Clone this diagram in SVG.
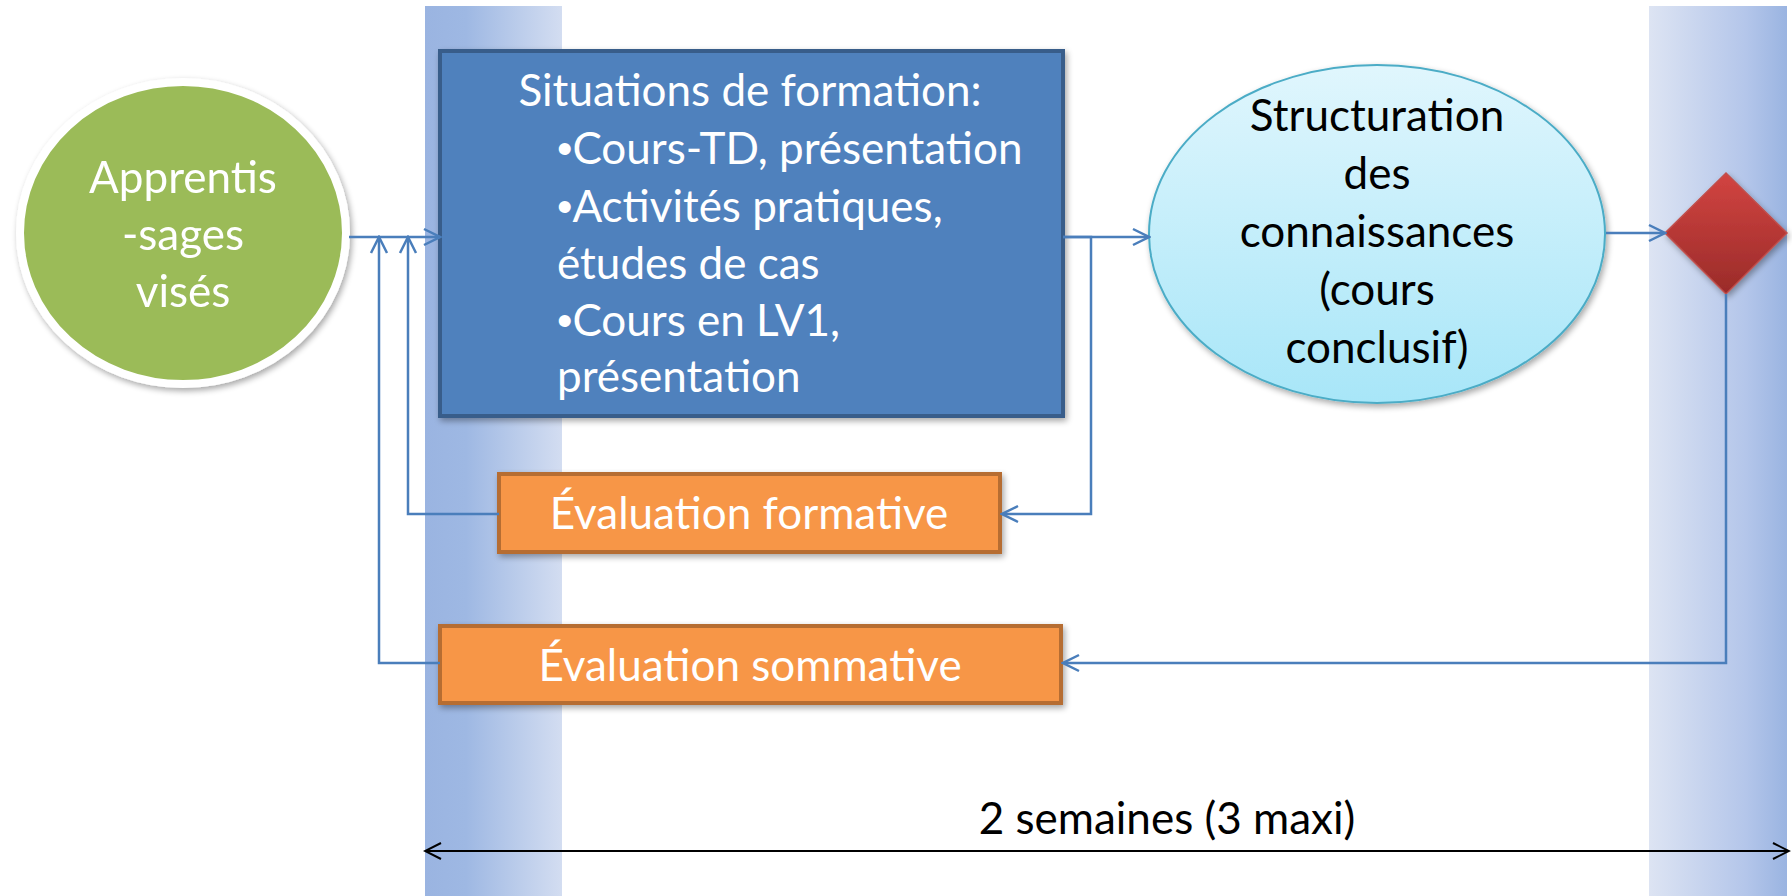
<svg xmlns="http://www.w3.org/2000/svg" width="1792" height="896" viewBox="0 0 1792 896">
  <defs>
    <linearGradient id="bandL" x1="0" y1="0" x2="1" y2="0">
      <stop offset="0" stop-color="#9ab4e1"/>
      <stop offset="0.3" stop-color="#9eb8e3"/>
      <stop offset="1" stop-color="#d3ddf1"/>
    </linearGradient>
    <linearGradient id="bandR" x1="0" y1="0" x2="1" y2="0">
      <stop offset="0" stop-color="#dde4f3"/>
      <stop offset="0.7" stop-color="#b4c6ea"/>
      <stop offset="1" stop-color="#9ab4e1"/>
    </linearGradient>
    <linearGradient id="cyanG" x1="0" y1="0" x2="0" y2="1">
      <stop offset="0" stop-color="#e0f6fd"/>
      <stop offset="1" stop-color="#a8e6f8"/>
    </linearGradient>
    <linearGradient id="redG" x1="0" y1="0" x2="0" y2="1">
      <stop offset="0" stop-color="#d24441"/>
      <stop offset="1" stop-color="#9a2b29"/>
    </linearGradient>
    <filter id="shadow" x="-10%" y="-10%" width="125%" height="125%">
      <feGaussianBlur in="SourceAlpha" stdDeviation="3"/>
      <feOffset dx="2" dy="3" result="b"/>
      <feComponentTransfer><feFuncA type="linear" slope="0.35"/></feComponentTransfer>
      <feMerge><feMergeNode/><feMergeNode in="SourceGraphic"/></feMerge>
    </filter>
    <marker id="arr" viewBox="0 0 20 20" refX="18" refY="10" markerWidth="20" markerHeight="20" markerUnits="userSpaceOnUse" orient="auto">
      <path d="M2,2 L18,10 L2,18" fill="none" stroke="#4a7ebb" stroke-width="2.5"/>
    </marker>
    <marker id="arrK" viewBox="0 0 20 20" refX="18" refY="10" markerWidth="20" markerHeight="20" markerUnits="userSpaceOnUse" orient="auto-start-reverse">
      <path d="M2,2 L18,10 L2,18" fill="none" stroke="#000" stroke-width="2"/>
    </marker>
    <style>
      .t { font-family: Lato, "Open Sans", "Liberation Sans", sans-serif; font-size: 44px; }
      .b { font-family: "Liberation Sans", sans-serif; }
      .w { fill: #ffffff; }
      .k { fill: #000000; }
      .c { fill: none; stroke: #4a7ebb; stroke-width: 2.5; }
      .orange { fill: #f79646; stroke: #b66d31; stroke-width: 4; }
    </style>
  </defs>

  <g id="bands">
    <rect x="425" y="6" width="137" height="890" fill="url(#bandL)"/>
    <rect x="1649" y="6" width="138" height="890" fill="url(#bandR)"/>
  </g>

  <g id="node-apprentissages" filter="url(#shadow)">
    <ellipse cx="183" cy="233" rx="163" ry="151" fill="#9bbb59" stroke="#ffffff" stroke-width="8"/>
    <text class="t w" x="183" y="193" text-anchor="middle">Apprentis</text>
    <text class="t w" x="183" y="250" text-anchor="middle">-sages</text>
    <text class="t w" x="183" y="307" text-anchor="middle">visés</text>
  </g>

  <g id="node-situations">
    <rect x="440" y="51" width="623" height="365" fill="#4f81bd" stroke="#385d8a" stroke-width="4" filter="url(#shadow)"/>
    <text class="t w" x="750" y="106" text-anchor="middle">Situations de formation:</text>
    <text class="t w" x="557" y="164"><tspan class="b">•</tspan>Cours-TD, présentation</text>
    <text class="t w" x="557" y="222"><tspan class="b">•</tspan>Activités pratiques,</text>
    <text class="t w" x="557" y="279">études de cas</text>
    <text class="t w" x="557" y="336"><tspan class="b">•</tspan>Cours en LV1,</text>
    <text class="t w" x="557" y="392">présentation</text>
  </g>

  <g id="node-structuration">
    <ellipse cx="1377" cy="234" rx="228" ry="169" fill="url(#cyanG)" stroke="#4bacc6" stroke-width="2" filter="url(#shadow)"/>
    <text class="t k" x="1377" y="131" text-anchor="middle">Structuration</text>
    <text class="t k" x="1377" y="189" text-anchor="middle">des</text>
    <text class="t k" x="1377" y="247" text-anchor="middle">connaissances</text>
    <text class="t k" x="1377" y="305" text-anchor="middle">(cours</text>
    <text class="t k" x="1377" y="363" text-anchor="middle">conclusif)</text>
  </g>

  <g id="node-decision">
    <polygon points="1726,173 1787,233 1726,294 1665,233" fill="url(#redG)" stroke="#c0504d" stroke-width="1.5" filter="url(#shadow)"/>
  </g>

  <g id="node-formative">
    <rect class="orange" x="499" y="474" width="501" height="78" filter="url(#shadow)"/>
    <text class="t w" x="749" y="529" text-anchor="middle">Évaluation formative</text>
  </g>

  <g id="node-sommative">
    <rect class="orange" x="440" y="626" width="621" height="77" filter="url(#shadow)"/>
    <text class="t w" x="750" y="681" text-anchor="middle">Évaluation sommative</text>
  </g>

  <g id="connectors">
    <path class="c" d="M349,237 H440" marker-end="url(#arr)"/>
    <path class="c" d="M1063,237 H1149" marker-end="url(#arr)"/>
    <path class="c" d="M1063,237 H1091 V514 H1002" marker-end="url(#arr)"/>
    <path class="c" d="M499,514 H408 V237" marker-end="url(#arr)"/>
    <path class="c" d="M1606,233 H1665" marker-end="url(#arr)"/>
    <path class="c" d="M1726,294 V663 H1063" marker-end="url(#arr)"/>
    <path class="c" d="M440,663 H379 V237" marker-end="url(#arr)"/>
    <path d="M425,851 H1789" fill="none" stroke="#000" stroke-width="2" marker-start="url(#arrK)" marker-end="url(#arrK)"/>
  </g>

  <g id="label-duration">
    <text class="t k" x="1167" y="834" text-anchor="middle">2 semaines (3 maxi)</text>
  </g>
</svg>
